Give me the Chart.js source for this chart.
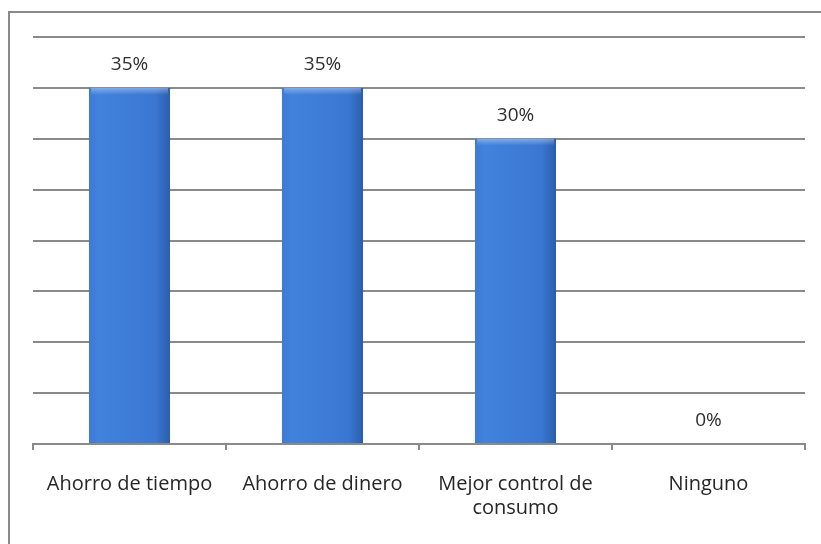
<!DOCTYPE html>
<html>
<head>
<meta charset="utf-8">
<script src="https://cdn.jsdelivr.net/npm/chart.js@4"></script>
<style>
  html, body { margin: 0; padding: 0; background: #fff; }
  #wrap { position: relative; width: 821px; height: 544px; }
</style>
</head>
<body>
<div id="wrap"><canvas id="Chart" width="821" height="544"></canvas></div>
<script>
const categories = ["Ahorro de tiempo", "Ahorro de dinero", ["Mejor control de", "consumo"], "Ninguno"];
const percents = [35, 35, 30, 0];
const yTicks = [0, 5, 10, 15, 20, 25, 30, 35, 40];

const FONT = "'Open Sans', 'Liberation Sans', sans-serif";
const BAR_PCT = 0.42;

// outer frame like the spreadsheet chart box
const frame = {
  id: "frame",
  beforeDraw(chart) {
    const { ctx } = chart;
    ctx.save();
    ctx.fillStyle = "#fff";
    ctx.fillRect(0, 0, chart.width, chart.height);
    ctx.strokeStyle = "#8a8a8a";
    ctx.lineWidth = 2;
    ctx.strokeRect(9, 12, chart.width, chart.height);
    ctx.restore();
  },
};

// soft bevel on top of each bar + value text above it
const valueLabels = {
  id: "valueLabels",
  afterDatasetsDraw(chart) {
    const { ctx } = chart;
    const meta = chart.getDatasetMeta(0);
    ctx.save();
    meta.data.forEach((bar) => {
      const h = bar.base - bar.y;
      if (h < 8) return;
      const g = ctx.createLinearGradient(0, bar.y, 0, bar.y + 7);
      g.addColorStop(0, "rgba(255,255,255,0.35)");
      g.addColorStop(1, "rgba(255,255,255,0)");
      ctx.fillStyle = g;
      ctx.fillRect(bar.x - bar.width / 2 + 2, bar.y, bar.width - 4, 7);
    });
    ctx.font = "19px " + FONT;
    ctx.fillStyle = "#2e2e2e";
    ctx.textAlign = "center";
    ctx.textBaseline = "middle";
    meta.data.forEach((bar, i) => {
      ctx.fillText(percents[i] + "%", bar.x, bar.y - 23);
    });
    ctx.restore();
  },
};

function barFill(context) {
  const chart = context.chart;
  const xs = chart.scales && chart.scales.x;
  if (!chart.chartArea || !xs) return "#3b78d4";
  const cx = xs.getPixelForValue(context.dataIndex);
  const w = (chart.chartArea.width / categories.length) * BAR_PCT;
  if (!Number.isFinite(cx) || !Number.isFinite(w)) return "#3b78d4";
  const g = chart.ctx.createLinearGradient(cx - w / 2, 0, cx + w / 2, 0);
  g.addColorStop(0, "#3d7bd5");
  g.addColorStop(0.12, "#4282dc");
  g.addColorStop(0.82, "#3a77d2");
  g.addColorStop(1, "#2b5eab");
  return g;
}

new Chart(document.getElementById("Chart"), {
  type: "bar",
  data: {
    labels: categories,
    datasets: [
      {
        data: percents,
        backgroundColor: barFill,
        borderWidth: 0,
        barPercentage: BAR_PCT,
        categoryPercentage: 1,
      },
    ],
  },
  options: {
    responsive: false,
    animation: false,
    layout: { padding: { left: 33, right: 16, top: 37, bottom: 2 } },
    plugins: { legend: { display: false }, tooltip: { enabled: false } },
    scales: {
      x: {
        grid: { display: true, drawOnChartArea: false, color: "#8a8a8a", lineWidth: 2, tickLength: 6 },
        border: { display: true, color: "#8a8a8a", width: 2 },
        ticks: {
          color: "#262626",
          font: { family: FONT, size: 20, lineHeight: 1.2 },
          padding: 22,
          maxRotation: 0,
        },
      },
      y: {
        min: 0,
        max: 40,
        afterBuildTicks(axis) {
          axis.ticks = yTicks.map((v) => ({ value: v }));
        },
        ticks: { display: false },
        grid: { color: "#8a8a8a", lineWidth: 2, drawTicks: false },
        border: { display: false },
      },
    },
  },
  plugins: [frame, valueLabels],
});
</script>
</body>
</html>
